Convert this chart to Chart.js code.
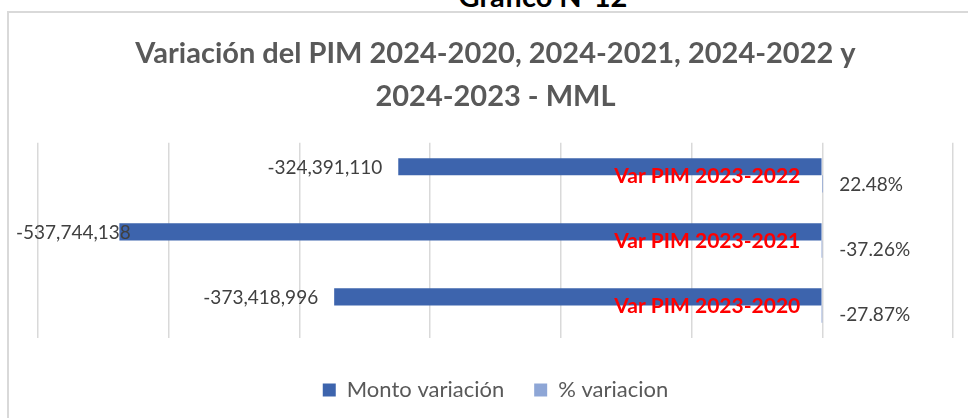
<!DOCTYPE html>
<html lang="es">
<head>
  <meta charset="UTF-8">
  <script src="https://cdn.jsdelivr.net/npm/chart.js"></script>
  <title>Gráfico N°12</title>
  <style>
    html, body {
      margin: 0;
      padding: 0;
      background: #fff;
      overflow: hidden;
    }

    #wrap {
      position: relative;
      width: 968px;
      height: 418px;
      overflow: hidden;
    }

    #frame {
      position: absolute;
      left: 7px;
      top: 11px;
      width: 1000px;
      height: 500px;
      border: 2px solid #d9d9d9;
    }

    #numero {
      position: absolute;
      left: 0;
      width: 1086px;
      top: -22px;
      text-align: center;
      font: bold 29px Lato, sans-serif;
      color: #000;
    }

    #myChart {
      position: absolute;
      left: 0;
      top: 0;
    }
  </style>
  <script>
    // datos
    const categorias = ['Var PIM 2023-2022', 'Var PIM 2023-2021', 'Var PIM 2023-2020'];
    const montoVariacion = [-324391110, -537744138, -373418996];
    const pctVariacion = [0.2248, -0.3726, -0.2787];
    const ejeMin = -600000000;
    const ejeMax = 100000000;
    const ejePaso = 100000000;

    const fuente = 'Lato, sans-serif';

    // etiquetas de datos y de categoria (dibujadas sobre las barras)
    const etiquetas = {
      id: 'etiquetas',
      afterDatasetsDraw(chart) {
        const ctx = chart.ctx;
        const xs = chart.scales.x;
        const ys = chart.scales.y;
        const cero = xs.getPixelForValue(0);
        ctx.save();
        ctx.textBaseline = 'middle';

        // montos
        ctx.font = '19px ' + fuente;
        ctx.fillStyle = '#404040';
        ctx.textAlign = 'left';
        chart.getDatasetMeta(0).data.forEach((bar, i) => {
          const txt = montoVariacion[i].toLocaleString('en-US');
          const w = ctx.measureText(txt).width;
          let x = Math.min(bar.x, bar.base) - 16 - w;
          if (x < 16) x = 16;
          ctx.fillText(txt, x, bar.y + 1);
        });

        // porcentajes
        chart.getDatasetMeta(1).data.forEach((bar, i) => {
          const txt = (pctVariacion[i] * 100).toFixed(2) + '%';
          ctx.fillText(txt, cero + 17, bar.y + 1);
        });

        // nombres de categoria
        ctx.font = 'bold 21px ' + fuente;
        ctx.fillStyle = '#ff0000';
        ctx.textAlign = 'right';
        categorias.forEach((c, i) => {
          ctx.fillText(c, cero - 22, ys.getPixelForValue(i) + 1);
        });
        ctx.restore();
      }
    };

    window.addEventListener('load', function () {
      const ctx = document.getElementById('myChart');
      new Chart(ctx, {
        type: 'bar',
        data: {
          labels: categorias,
          datasets: [{
            label: 'Monto variación',
            data: montoVariacion,
            backgroundColor: '#3d64ad',
            borderWidth: 0
          }, {
            label: '% variacion',
            data: pctVariacion,
            backgroundColor: '#8ea6d6',
            borderWidth: 0
          }]
        },
        options: {
          indexAxis: 'y',
          responsive: false,
          animation: false,
          barPercentage: 1,
          categoryPercentage: 0.53,
          layout: {
            padding: { left: 38, right: 15, top: 30, bottom: 7 }
          },
          scales: {
            x: {
              min: ejeMin,
              max: ejeMax,
              ticks: { display: false, stepSize: ejePaso },
              grid: { color: '#d9d9d9', lineWidth: 1.5, drawTicks: true, tickLength: 11, tickColor: 'rgba(0,0,0,0)' },
              border: { display: false }
            },
            y: {
              display: false
            }
          },
          plugins: {
            title: {
              display: true,
              text: ['Variación del PIM 2024-2020, 2024-2021, 2024-2022 y', '2024-2023 - MML'],
              color: '#595959',
              font: { family: fuente, size: 29, weight: 'bold', lineHeight: 1.48 },
              padding: { top: 2, bottom: 25 }
            },
            legend: {
              position: 'bottom',
              labels: {
                color: '#595959',
                font: { family: fuente, size: 22 },
                boxWidth: 13,
                boxHeight: 13,
                padding: 30
              }
            },
            tooltip: { enabled: false }
          }
        },
        plugins: [etiquetas]
      });
    });
  </script>
</head>
<body>
  <div id="wrap">
    <div id="frame"></div>
    <div id="numero">Gráfico N°12</div>
    <canvas id="myChart" width="968" height="418"></canvas>
  </div>
</body>
</html>
